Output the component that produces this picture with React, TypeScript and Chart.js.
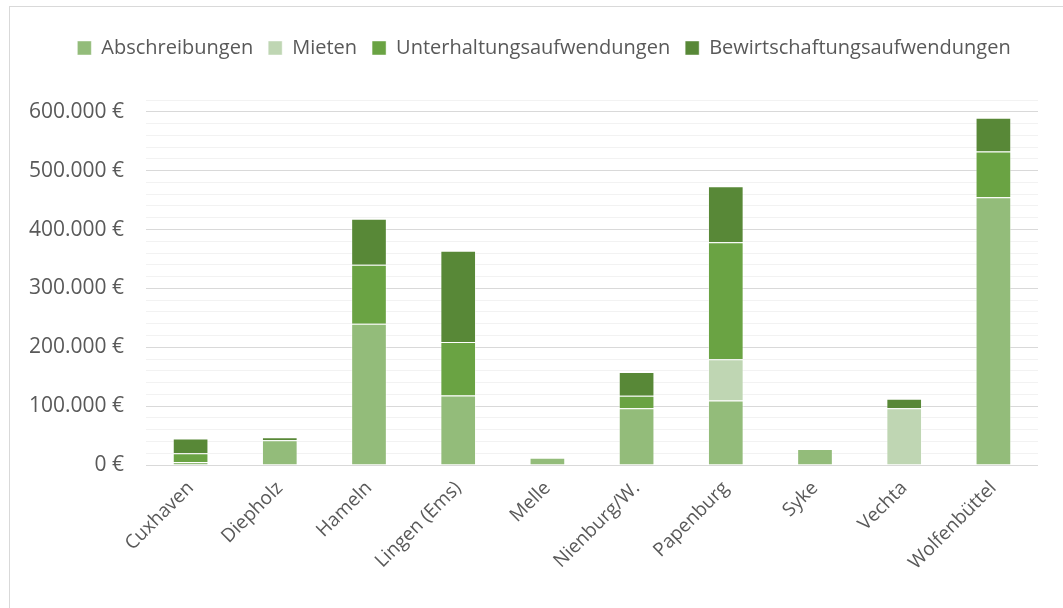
import React, { useEffect, useRef } from "react";
import { Chart, registerables } from "chart.js";

Chart.register(...registerables);

const categories = [
  "Cuxhaven",
  "Diepholz",
  "Hameln",
  "Lingen (Ems)",
  "Melle",
  "Nienburg/W.",
  "Papenburg",
  "Syke",
  "Vechta",
  "Wolfenbüttel",
];
const abschreibungen = [5000, 42000, 240000, 118000, 12300, 96500, 109500, 27000, null, 455000];
const mieten = [null, null, null, null, null, null, 70000, null, 96500, null];
const unterhaltung = [15000, null, 100000, 91000, null, 21000, 199000, null, null, 77500];
const bewirtschaftung = [25000, 5000, 78500, 155000, null, 40500, 95000, null, 16000, 57500];

const yMax = 620000;
const yStep = 20000;
const yLabelStep = 100000;

const FONT = "'Open Sans', sans-serif";
const TEXT = "#595959";

function fmt(v: number): string {
  return String(Math.round(v)).replace(/\B(?=(\d{3})+(?!\d))/g, ".") + " €";
}

const legendTweak = {
  id: "legendTweak",
  beforeInit(chart: any) {
    const lg = chart.legend;
    if (!lg) return;
    const orig = lg.fit.bind(lg);
    lg.fit = function () {
      orig();
      this.height += 32;
    };
  },
  afterUpdate(chart: any) {
    const lg = chart.legend;
    if (!lg) return;
    lg.left += 25;
    lg.right += 25;
  },
};

export default function App() {
  const ref = useRef<HTMLCanvasElement | null>(null);
  useEffect(() => {
    if (!ref.current) return;
    const mk = (label: string, data: (number | null)[], color: string) => ({
      label,
      data,
      backgroundColor: color,
      borderColor: "rgba(255,255,255,0.45)",
      borderWidth: 1,
      barPercentage: 0.4,
      categoryPercentage: 1,
    });
    const chart = new Chart(ref.current, {
      type: "bar",
      data: {
        labels: categories,
        datasets: [
          mk("Abschreibungen", abschreibungen, "#93BC7A"),
          mk("Mieten", mieten, "#BFD6B3"),
          mk("Unterhaltungsaufwendungen", unterhaltung, "#6AA343"),
          mk("Bewirtschaftungsaufwendungen", bewirtschaftung, "#588837"),
        ],
      },
      plugins: [legendTweak],
      options: {
        animation: false,
        responsive: false,
        maintainAspectRatio: false,
        layout: { padding: { left: 0, right: 25, top: 23, bottom: 0 } },
        plugins: {
          tooltip: { enabled: false },
          legend: {
            position: "top",
            labels: {
              font: { family: FONT, size: 20 },
              color: TEXT,
              boxWidth: 14,
              boxHeight: 14,
              padding: 15,
            },
          },
        },
        scales: {
          x: {
            stacked: true,
            grid: { display: false },
            border: { display: false },
            ticks: {
              font: { family: FONT, size: 19 },
              color: TEXT,
              minRotation: 45,
              maxRotation: 45,
              autoSkip: false,
              padding: 4,
            },
            afterFit: (s: any) => {
              s.height = 143;
            },
          },
          y: {
            stacked: true,
            min: 0,
            max: yMax,
            border: { display: false },
            grid: {
              drawTicks: false,
              color: (c: any) =>
                c.tick && c.tick.value % yLabelStep === 0 ? "#d9d9d9" : "#f2f2f2",
              lineWidth: 1,
            },
            ticks: {
              stepSize: yStep,
              autoSkip: false,
              padding: 22,
              font: { family: FONT, size: 21 },
              color: TEXT,
              callback: (v: any) => (Number(v) % yLabelStep === 0 ? fmt(Number(v)) : ""),
            },
            afterFit: (s: any) => {
              s.width = 146;
            },
          },
        },
      },
    } as any);
    return () => chart.destroy();
  }, []);
  return (
    <div
      style={{
        position: "fixed",
        left: 0,
        top: 0,
        width: 1063,
        height: 608,
        overflow: "hidden",
        background: "#fff",
      }}
    >
      <div
        style={{
          position: "absolute",
          left: 9,
          top: 6,
          width: 1200,
          height: 800,
          border: "1px solid #d9d9d9",
        }}
      />
      <canvas
        ref={ref}
        width={1063}
        height={608}
        style={{ position: "absolute", left: 0, top: 0, width: 1063, height: 608 }}
      />
    </div>
  );
}
